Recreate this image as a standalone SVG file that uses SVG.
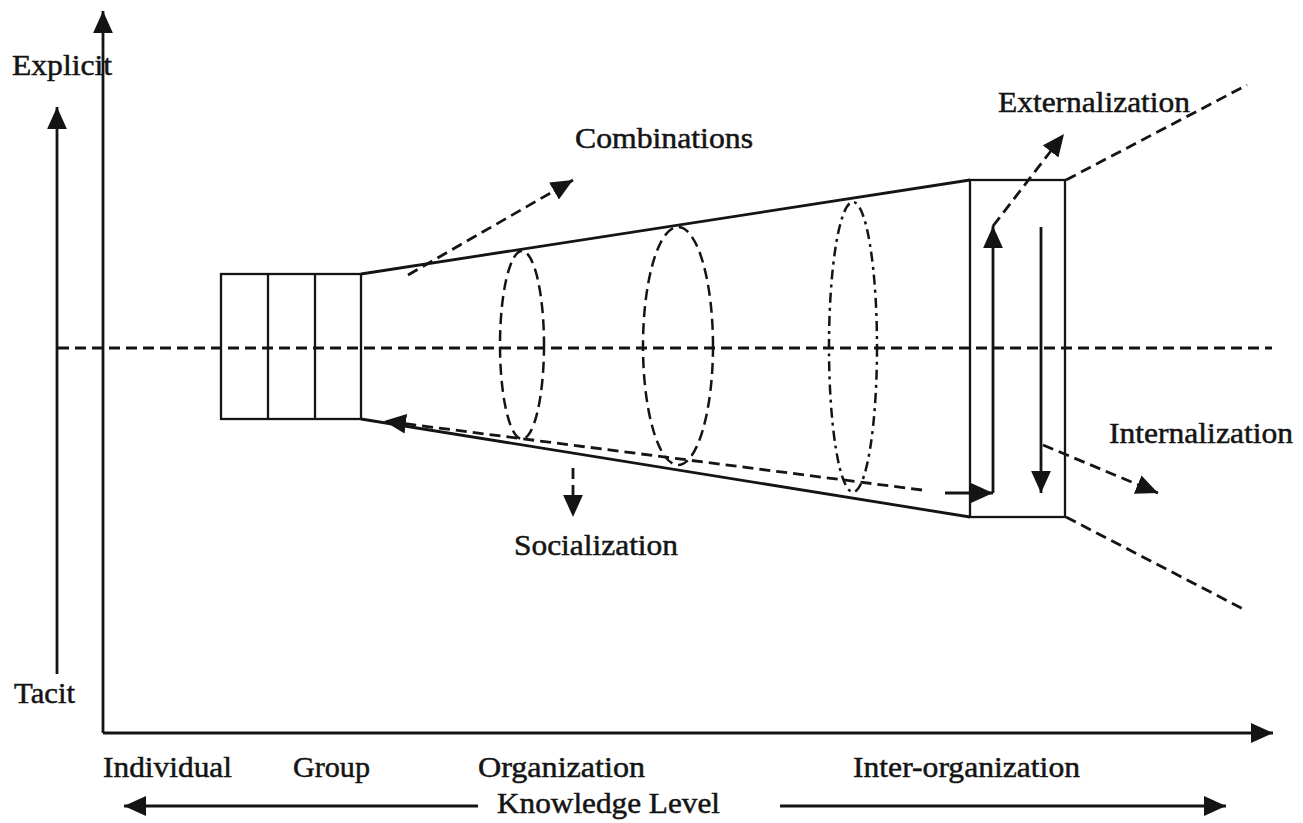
<svg xmlns="http://www.w3.org/2000/svg" width="1303" height="823" viewBox="0 0 1303 823">
  <style>
    .bg { fill: #ffffff; }
    .solid { fill: none; stroke: #141414; stroke-width: 2.8; }
    .thin { fill: none; stroke: #141414; stroke-width: 2.3; }
    .dash { fill: none; stroke: #141414; stroke-width: 2.8; stroke-dasharray: 11 6; }
    .dashdot { fill: none; stroke: #141414; stroke-width: 2.5; stroke-dasharray: 10 5 3 5; }
    .ell { fill: none; stroke: #141414; stroke-width: 2.5; stroke-dasharray: 11 6; }
    .lbl { font-family: "Liberation Serif", "Times New Roman", serif; font-size: 30px; fill: #141414; stroke: #141414; stroke-width: 0.5; }
  </style>
  <defs>
    <marker id="head" markerUnits="userSpaceOnUse" markerWidth="22" markerHeight="20" viewBox="0 0 20 18" refX="20" refY="9" orient="auto">
      <path d="M0,0 L20,9 L0,18 z" fill="#141414"/>
    </marker>
  </defs>

  <rect class="bg" x="0" y="0" width="1303" height="823"/>

  <!-- axes -->
  <g id="axes">
    <line class="solid" x1="103" y1="733" x2="103" y2="11" marker-end="url(#head)"/>
    <line class="solid" x1="103" y1="733" x2="1273" y2="733" marker-end="url(#head)"/>
    <line class="solid" x1="57" y1="674" x2="57" y2="107" marker-end="url(#head)"/>
  </g>

  <!-- centre line -->
  <g id="centre-line">
    <line class="dash" x1="58" y1="348" x2="1272" y2="348"/>
  </g>

  <!-- individual / group blocks -->
  <g id="blocks">
    <rect class="thin" x="221" y="274" width="140" height="145"/>
    <line class="thin" x1="268" y1="274" x2="268" y2="419"/>
    <line class="thin" x1="315" y1="274" x2="315" y2="419"/>
  </g>

  <!-- widening organisation funnel -->
  <g id="funnel">
    <line class="solid" x1="361" y1="274" x2="970" y2="180"/>
    <line class="solid" x1="361" y1="419" x2="970" y2="517"/>
  </g>

  <!-- cross sections -->
  <g id="sections">
    <ellipse class="ell" cx="522" cy="345" rx="22" ry="94"/>
    <ellipse class="ell" cx="678" cy="346" rx="35" ry="119"/>
    <ellipse class="dashdot" cx="853" cy="347" rx="24" ry="145"/>
  </g>

  <!-- inter-organisation box -->
  <g id="inter-box">
    <rect class="thin" x="970" y="180" width="95" height="337"/>
  </g>

  <!-- flows -->
  <g id="connectors">
    <!-- combinations -->
    <line class="dash" x1="408" y1="275" x2="573" y2="180" marker-end="url(#head)"/>
    <!-- socialization -->
    <line class="dash" x1="922" y1="490" x2="384" y2="421" marker-end="url(#head)"/>
    <line class="dash" x1="573" y1="468" x2="573" y2="517" marker-end="url(#head)"/>
    <!-- loop into the inter-organisation box -->
    <line class="solid" x1="945" y1="493" x2="993" y2="493" marker-end="url(#head)"/>
    <line class="solid" x1="993" y1="493" x2="993" y2="226" marker-end="url(#head)"/>
    <line class="solid" x1="1041" y1="227" x2="1041" y2="493" marker-end="url(#head)"/>
    <!-- externalization -->
    <line class="dash" x1="993" y1="226" x2="1064" y2="134" marker-end="url(#head)"/>
    <!-- internalization -->
    <line class="dash" x1="1043" y1="445" x2="1158" y2="493" marker-end="url(#head)"/>
    <!-- opening rays -->
    <line class="dash" x1="1066" y1="180" x2="1247" y2="85"/>
    <line class="dash" x1="1066" y1="517" x2="1247" y2="611"/>
    <!-- knowledge level arrows -->
    <line class="solid" x1="478" y1="806" x2="124" y2="806" marker-end="url(#head)"/>
    <line class="solid" x1="780" y1="806" x2="1226" y2="806" marker-end="url(#head)"/>
  </g>

  <!-- labels -->
  <g id="labels">
    <text class="lbl" x="12" y="75" textLength="100" lengthAdjust="spacingAndGlyphs">Explicit</text>
    <text class="lbl" x="14" y="703" textLength="61" lengthAdjust="spacingAndGlyphs">Tacit</text>
    <text class="lbl" x="575" y="148" textLength="178" lengthAdjust="spacingAndGlyphs">Combinations</text>
    <text class="lbl" x="998" y="112" textLength="192" lengthAdjust="spacingAndGlyphs">Externalization</text>
    <text class="lbl" x="1109" y="443" textLength="184" lengthAdjust="spacingAndGlyphs">Internalization</text>
    <text class="lbl" x="514" y="555" textLength="164" lengthAdjust="spacingAndGlyphs">Socialization</text>
    <text class="lbl" x="103" y="777" textLength="129" lengthAdjust="spacingAndGlyphs">Individual</text>
    <text class="lbl" x="293" y="777" textLength="77" lengthAdjust="spacingAndGlyphs">Group</text>
    <text class="lbl" x="478" y="777" textLength="167" lengthAdjust="spacingAndGlyphs">Organization</text>
    <text class="lbl" x="853" y="777" textLength="227" lengthAdjust="spacingAndGlyphs">Inter-organization</text>
    <text class="lbl" x="497" y="813" textLength="223" lengthAdjust="spacingAndGlyphs">Knowledge Level</text>
  </g>
</svg>
